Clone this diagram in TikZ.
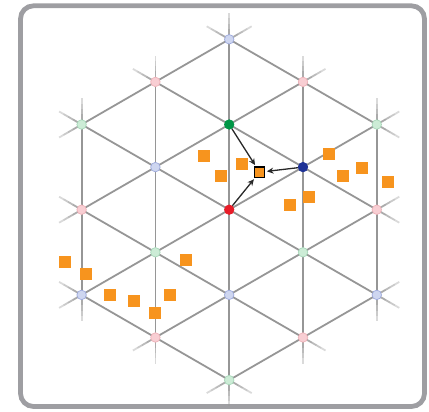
\documentclass[tikz,border=0pt]{standalone}
\usetikzlibrary{arrows.meta}
\definecolor{linegray}{RGB}{150,150,150}
\definecolor{framegray}{RGB}{158,158,162}
\definecolor{orng}{RGB}{247,148,30}
\definecolor{redA}{RGB}{232,28,40}
\definecolor{greenA}{RGB}{0,150,70}
\definecolor{blueA}{RGB}{30,50,150}
\definecolor{pinkF}{RGB}{248,206,211}
\definecolor{pinkD}{RGB}{238,178,185}
\definecolor{lgreenF}{RGB}{204,236,214}
\definecolor{lgreenD}{RGB}{168,216,186}
\definecolor{lblueF}{RGB}{206,214,240}
\definecolor{lblueD}{RGB}{158,170,220}
\definecolor{arrgray}{RGB}{40,40,40}
\tikzset{
  latt/.style={draw=linegray, line width=1.8pt},
  frm/.style={draw=framegray, line width=4.8pt, rounded corners=13pt},
  pt/.style={circle, inner sep=0pt, minimum size=9.5pt, line width=0.7pt},
  ptred/.style={pt, fill=redA, draw=redA},
  ptgreen/.style={pt, fill=greenA, draw=greenA},
  ptblue/.style={pt, fill=blueA, draw=blueA},
  ptpink/.style={pt, fill=pinkF, draw=pinkD},
  ptlgreen/.style={pt, fill=lgreenF, draw=lgreenD},
  ptlblue/.style={pt, fill=lblueF, draw=lblueD},
  sq/.style={rectangle, fill=orng, inner sep=0pt, minimum size=12pt},
  target/.style={rectangle, fill=orng, draw=black, line width=1.2pt, inner sep=0pt, minimum size=10.5pt},
  arr/.style={-{Stealth[length=6.5pt,width=6pt]}, line width=1.3pt, draw=arrgray, shorten >=1.5pt}
}
\begin{document}
\begin{tikzpicture}[x=1pt,y=-1pt]
\useasboundingbox (0,0) rectangle (429,412);
\draw[frm] (20.5,5.8) rectangle (424.5,406.5);
\def\aa{85.2}
\def\hh{73.79}
\def\ss{26}
\begin{scope}[shift={(229.2,209.7)}]
  % lattice lines, three families
  \foreach \r in {0,60,-60} {
    \begin{scope}[rotate=\r]
      \foreach \k/\L in {-2/1,-1/1.5,0/2,1/1.5,2/1} {
        \draw[latt] (\k*\hh,-\L*\aa) -- (\k*\hh,\L*\aa);
        \foreach \i in {0,...,4} {
          \draw[latt, draw opacity={0.95-0.15*\i}] (\k*\hh,{-\L*\aa-\i*\ss/5}) -- (\k*\hh,{-\L*\aa-(\i+1)*\ss/5});
          \draw[latt, draw opacity={0.95-0.15*\i}] (\k*\hh,{\L*\aa+\i*\ss/5}) -- (\k*\hh,{\L*\aa+(\i+1)*\ss/5});
        }
      }
    \end{scope}
  }
  % lattice points
  \node[ptlblue]  (p0m4) at (0,-2*\aa) {};
  \node[ptpink]   (pm1m3) at (-\hh,-1.5*\aa) {};
  \node[ptpink]   (p1m3) at (\hh,-1.5*\aa) {};
  \node[ptlgreen] (pm2m2) at (-2*\hh,-\aa) {};
  \node[ptgreen]  (p0m2) at (0,-\aa) {};
  \node[ptlgreen] (p2m2) at (2*\hh,-\aa) {};
  \node[ptlblue]  (pm1m1) at (-\hh,-0.5*\aa) {};
  \node[ptblue]   (p1m1) at (\hh,-0.5*\aa) {};
  \node[ptpink]   (pm2z) at (-2*\hh,0) {};
  \node[ptred]    (p0z) at (0,0) {};
  \node[ptpink]   (p2z) at (2*\hh,0) {};
  \node[ptlgreen] (pm1p1) at (-\hh,0.5*\aa) {};
  \node[ptlgreen] (p1p1) at (\hh,0.5*\aa) {};
  \node[ptlblue]  (pm2p2) at (-2*\hh,\aa) {};
  \node[ptlblue]  (p0p2) at (0,\aa) {};
  \node[ptlblue]  (p2p2) at (2*\hh,\aa) {};
  \node[ptpink]   (pm1p3) at (-\hh,1.5*\aa) {};
  \node[ptpink]   (p1p3) at (\hh,1.5*\aa) {};
  \node[ptlgreen] (p0p4) at (0,2*\aa) {};
\end{scope}
% data squares
\node[sq] (o1) at (204.3,155.7) {};
\node[sq] (o2) at (241.5,163.5) {};
\node[sq] (o3) at (220.5,176) {};
\node[sq] (o4) at (329,153.7) {};
\node[sq] (o5) at (361.7,168) {};
\node[sq] (o6) at (343.3,176) {};
\node[sq] (o7) at (387.7,182.2) {};
\node[sq] (o8) at (308.7,196.7) {};
\node[sq] (o9) at (290,204.7) {};
\node[sq] (o10) at (186,260) {};
\node[sq] (o11) at (65.2,262.2) {};
\node[sq] (o12) at (85.7,274) {};
\node[sq] (o13) at (110,294.8) {};
\node[sq] (o14) at (134.3,300.7) {};
\node[sq] (o15) at (169.5,294.7) {};
\node[sq] (o16) at (155.3,313.3) {};
% query point
\node[target] (t) at (259.6,172.2) {};
\draw[arr] (p0m2) -- (t);
\draw[arr] (p1m1) -- (t);
\draw[arr] (p0z) -- (t);
\end{tikzpicture}
\end{document}
